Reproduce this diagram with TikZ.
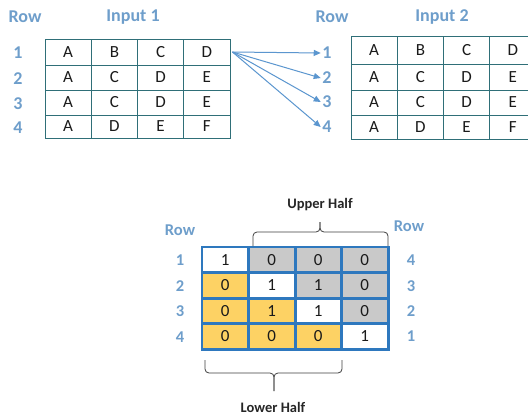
\documentclass[tikz,border=0pt]{standalone}
\usepackage{fontspec}
\setmainfont{Carlito}
\usetikzlibrary{arrows.meta}
\definecolor{lblblue}{HTML}{6E9ECB}
\definecolor{arrblue}{HTML}{5B96CF}
\definecolor{tealline}{HTML}{2F6F78}
\definecolor{matblue}{HTML}{2E78BE}
\definecolor{matyel}{HTML}{FDD264}
\definecolor{matgray}{HTML}{C9C9C9}
\definecolor{txt}{HTML}{1A1A1A}
\tikzset{
  lbl/.style={font=\bfseries\fontsize{18}{18}\selectfont, text=lblblue, inner sep=0pt},
  lblsm/.style={font=\bfseries\fontsize{16.5}{16.5}\selectfont, text=lblblue, inner sep=0pt},
  cellT/.style={draw=tealline, line width=0.9pt, inner sep=0pt, text=txt,
     font=\fontsize{17}{17}\selectfont, minimum width=46.25pt},
  cellM/.style={draw=matblue, line width=1.5pt, inner sep=0pt, text=txt,
     font=\fontsize{17}{17}\selectfont, minimum width=46.5pt, minimum height=25.5pt},
  conn/.style={draw=arrblue, line width=1pt, -{Triangle[length=7pt,width=6pt]}},
  bracestyle/.style={draw=black!75, line width=0.8pt, rounded corners=4pt},
  halflbl/.style={font=\bfseries\fontsize{14.5}{14.5}\selectfont, text=black!85, inner sep=0pt}
}
\begin{document}
\begin{tikzpicture}[x=1pt,y=-1pt]
\useasboundingbox[fill=white] (0,0) rectangle (528,415);

% ---------- top labels ----------
\node[lbl] (rowL) at (25,17) {Row};
\node[lbl] (inp1) at (133,17) {Input 1};
\node[lbl] (rowR) at (332,17) {Row};
\node[lbl] (inp2) at (442,17) {Input 2};

% ---------- left table ----------
\foreach \r/\ya/\yb/\vals in {1/39/65/{A,B,C,D},2/65/90/{A,C,D,E},3/90/115/{A,C,D,E},4/115/138/{A,D,E,F}}{
  \foreach \t [count=\c] in \vals {
    \node[cellT, minimum height={(\yb-\ya)*1pt}] (L\r\c) at ({45+(\c-1)*46.25+23.125},{(\ya+\yb)/2}) {\t};
  }
  \node[lbl] (ln\r) at (18,{(\ya+\yb)/2+1}) {\r};
}

% ---------- right table ----------
\foreach \r/\ya/\yb/\vals in {1/35/63/{A,B,C,D},2/63/89/{A,C,D,E},3/89/114/{A,C,D,E},4/114/138/{A,D,E,F}}{
  \foreach \t [count=\c] in \vals {
    \node[cellT, minimum height={(\yb-\ya)*1pt}] (R\r\c) at ({351+(\c-1)*46.25+23.125},{(\ya+\yb)/2+1}) {\t};
  }
}
\node[lbl] (rn1) at (327,53) {1};
\node[lbl] (rn2) at (327,78) {2};
\node[lbl] (rn3) at (327,102) {3};
\node[lbl] (rn4) at (327,127) {4};

% ---------- arrows ----------
\coordinate (src) at ([xshift=2pt]L14.east);
\foreach \k in {1,2,3,4}{
  \draw[conn] (src) -- ([xshift=-1.5pt]rn\k.west);
}

% ---------- bottom matrix ----------
\foreach \r/\cols/\vals in {1/{white,matgray,matgray,matgray}/{1,0,0,0},
                            2/{matyel,white,matgray,matgray}/{0,1,1,0},
                            3/{matyel,matyel,white,matgray}/{0,1,1,0},
                            4/{matyel,matyel,matyel,white}/{0,0,0,1}}{
  \foreach \cl [count=\c] in \cols {
    \node[cellM, fill=\cl] (M\r\c) at ({202+(\c-1)*46.5+23.25},{247+(\r-1)*25.5+12.75}) {};
  }
  \foreach \v [count=\c] in \vals {
    \node[text=txt, font=\fontsize{17}{17}\selectfont, inner sep=0pt] (V\r\c) at (M\r\c) {\v};
  }
}
% redraw grid lines on top
\foreach \r in {1,...,4}{\foreach \c in {1,...,4}{
  \draw[matblue, line width=1.5pt] (M\r\c.north west) rectangle (M\r\c.south east);
}}

\node[lblsm] (browL) at (180,230) {Row};
\node[lblsm] (browR) at (409,226) {Row};
\foreach \r/\y in {1/260,2/286,3/311,4/337}{
  \node[lblsm] (bl\r) at (180,\y) {\r};
}
\foreach \r/\y in {4/260,3/286,2/311,1/336}{
  \node[lblsm] (br\r) at (411,\y) {\r};
}

% ---------- braces ----------
\coordinate (ua) at (253,246);
\coordinate (ub) at (388,246);
\coordinate (um) at (320,232);
\coordinate (ut) at (320,222);
\draw[bracestyle] (ua) |- (um) -- (ut);
\draw[bracestyle] (ub) |- (um) -- (ut);
\node[halflbl] (upper) at (320,205) {Upper Half};

\coordinate (la) at (205,360);
\coordinate (lb) at (342,360);
\coordinate (lm) at (274,373);
\coordinate (lt) at (274,391);
\draw[bracestyle] (la) |- (lm) -- (lt);
\draw[bracestyle] (lb) |- (lm) -- (lt);
\node[halflbl] (lower) at (273,407) {Lower Half};
\end{tikzpicture}
\end{document}
